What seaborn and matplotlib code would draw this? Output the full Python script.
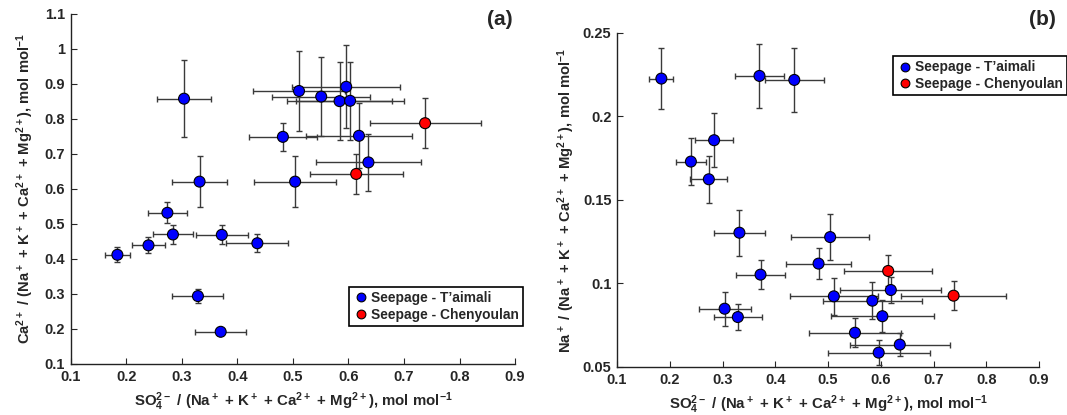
import numpy as np
import pandas as pd
import matplotlib
matplotlib.use('Agg')
import matplotlib.pyplot as plt
import seaborn as sns

# 样品数据 (x = SO4 比值, 两个面板共用)
site = ['Seepage - T\u2019aimali'] * 19 + ['Seepage - Chenyoulan'] * 2
so4 = [0.304, 0.511, 0.551, 0.596, 0.584, 0.603, 0.619, 0.482, 0.636, 0.332,
       0.504, 0.274, 0.284, 0.372, 0.240, 0.436, 0.184, 0.329, 0.370,
       0.614, 0.738]
so4_err = [0.049, 0.083, 0.088, 0.097, 0.094, 0.097, 0.096, 0.061, 0.095, 0.049,
           0.074, 0.035, 0.036, 0.047, 0.029, 0.056, 0.023, 0.046, 0.046,
           0.084, 0.100]
ca = [0.858, 0.880, 0.864, 0.892, 0.851, 0.852, 0.752, 0.749, 0.676, 0.621,
      0.621, 0.532, 0.470, 0.469, 0.439, 0.445, 0.412, 0.294, 0.192,
      0.643, 0.788]
ca_err = [0.110, 0.115, 0.113, 0.119, 0.111, 0.111, 0.093, 0.040, 0.082, 0.073,
          0.073, 0.030, 0.027, 0.027, 0.023, 0.026, 0.022, 0.020, 0.005,
          0.056, 0.071]
na = [0.0849, 0.0923, 0.0705, 0.0586, 0.0897, 0.0804, 0.0961, 0.1119, 0.0634, 0.1304,
      0.1278, 0.1624, 0.1858, 0.1053, 0.1730, 0.2219, 0.2227, 0.0799, 0.2243,
      0.1075, 0.0927]
na_err = [0.0102, 0.0110, 0.0087, 0.0073, 0.0110, 0.0095, 0.0080, 0.0095, 0.0068, 0.0139,
          0.0138, 0.0140, 0.0160, 0.0086, 0.0143, 0.0194, 0.0185, 0.0077, 0.0194,
          0.0093, 0.0087]

df = pd.DataFrame({'site': site, 'so4': so4, 'so4_err': so4_err,
                   'ca': ca, 'ca_err': ca_err, 'na': na, 'na_err': na_err})

sns.set_style('ticks')
plt.rcParams['font.family'] = ['Liberation Sans', 'DejaVu Sans']
plt.rcParams['font.weight'] = 'bold'
plt.rcParams['mathtext.fontset'] = 'custom'
plt.rcParams['mathtext.bf'] = 'Liberation Sans:bold'
plt.rcParams['mathtext.rm'] = 'Liberation Sans:bold'
plt.rcParams['mathtext.default'] = 'bf'

palette = {'Seepage - T\u2019aimali': 'blue', 'Seepage - Chenyoulan': 'red'}

fig = plt.figure(figsize=(10.67, 4.15), dpi=100)
ax1 = fig.add_axes([0.0663, 0.1229, 0.4164, 0.8434])
ax2 = fig.add_axes([0.5783, 0.1157, 0.3955, 0.8048])

xlab = r'SO$_4^{2-}$ / (Na$^+$ + K$^+$ + Ca$^{2+}$ + Mg$^{2+}$), mol mol$^{-1}$'


def draw(ax, ycol, ecol):
    ax.errorbar(df['so4'], df[ycol], xerr=df['so4_err'], yerr=df[ecol], fmt='none',
                ecolor='#3a3a3a', elinewidth=1.0, capsize=2.5, capthick=1.0, zorder=1)
    sns.scatterplot(data=df, x='so4', y=ycol, hue='site', palette=palette, s=62,
                    edgecolor='black', linewidth=0.8, ax=ax, zorder=3)
    for s in ['top', 'right']:
        ax.spines[s].set_visible(False)
    for s in ['left', 'bottom']:
        ax.spines[s].set_linewidth(1.0)
        ax.spines[s].set_color('#222222')
    ax.tick_params(direction='in', length=4, width=0.8, labelsize=10.5, pad=4)
    ax.set_xlim(0.1, 0.9)
    ax.set_xticks(np.arange(0.1, 0.95, 0.1))
    ax.set_xticklabels(['0.1', '0.2', '0.3', '0.4', '0.5', '0.6', '0.7', '0.8', '0.9'])
    ax.set_xlabel(xlab, fontsize=10.8, fontweight='bold', labelpad=5)
    for lab in ax.get_xticklabels() + ax.get_yticklabels():
        lab.set_fontweight('bold')


def add_legend(ax, loc, anchor):
    h, l = ax.get_legend_handles_labels()
    leg = ax.legend(h, l, loc=loc, bbox_to_anchor=anchor, markerscale=0.8,
                    frameon=True, fancybox=False, edgecolor='black', framealpha=1,
                    prop={'weight': 'bold', 'size': 9.9}, handletextpad=0.1,
                    borderpad=0.3, labelspacing=0.2, handlelength=1.2, borderaxespad=0)
    leg.get_frame().set_linewidth(1.2)


draw(ax1, 'ca', 'ca_err')
ax1.set_ylim(0.1, 1.1)
ax1.set_yticks(np.arange(0.1, 1.15, 0.1))
ax1.set_yticklabels(['0.1', '0.2', '0.3', '0.4', '0.5', '0.6', '0.7', '0.8', '0.9', '1', '1.1'],
                    fontweight='bold')
ax1.set_ylabel(r'Ca$^{2+}$ / (Na$^+$ + K$^+$ + Ca$^{2+}$ + Mg$^{2+}$), mol mol$^{-1}$',
               fontsize=10.6, fontweight='bold', labelpad=6)
add_legend(ax1, 'upper right', (1.018, 0.22))
ax1.text(0.965, 0.985, '(a)', transform=ax1.transAxes, fontsize=15, fontweight='bold',
         ha='center', va='center')

draw(ax2, 'na', 'na_err')
ax2.set_ylim(0.05, 0.25)
ax2.set_yticks([0.05, 0.1, 0.15, 0.2, 0.25])
ax2.set_yticklabels(['0.05', '0.1', '0.15', '0.2', '0.25'], fontweight='bold')
ax2.set_ylabel(r'Na$^+$ / (Na$^+$ + K$^+$ + Ca$^{2+}$ + Mg$^{2+}$), mol mol$^{-1}$',
               fontsize=10.6, fontweight='bold', labelpad=4)
add_legend(ax2, 'upper left', (0.654, 0.93))
ax2.text(1.007, 1.04, '(b)', transform=ax2.transAxes, fontsize=15, fontweight='bold',
         ha='center', va='center')

fig.savefig('out.png', dpi=100)
